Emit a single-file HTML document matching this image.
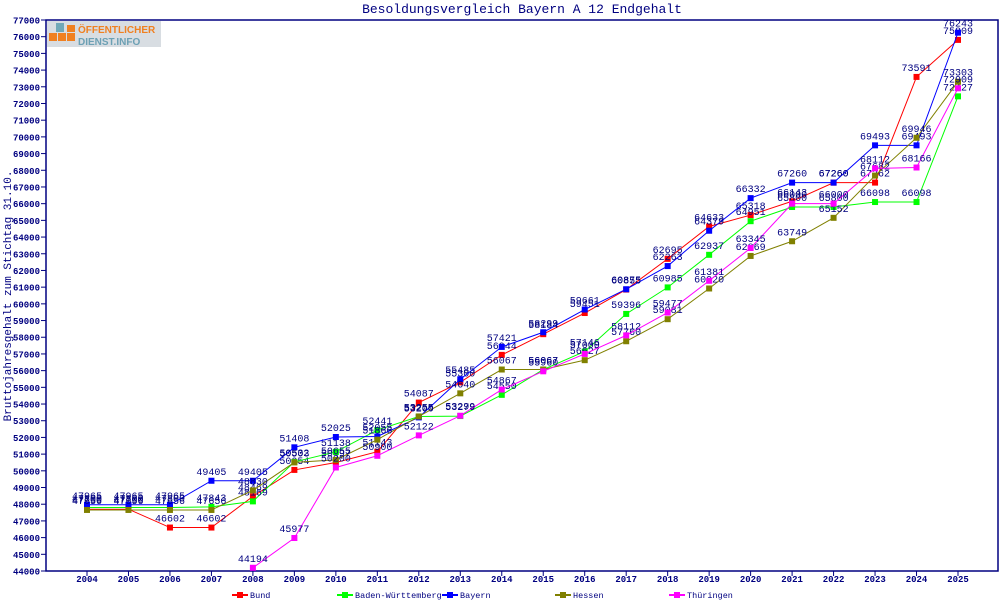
<!DOCTYPE html>
<html><head><meta charset="utf-8">
<style>
body{margin:0;background:#fff;}
svg{display:block;font-family:"Liberation Mono",monospace;}
</style></head>
<body>
<svg id="chart" width="1000" height="600">
<rect x="0" y="0" width="1000" height="600" fill="#fff"/>
<text x="522" y="13" font-size="13" fill="#000080" text-anchor="middle">Besoldungsvergleich Bayern A 12 Endgehalt</text>
<g>
<rect x="47" y="21" width="114" height="26" fill="#d8dde2"/>
<rect x="49" y="33" width="8" height="8" fill="#f08020"/><rect x="58" y="33" width="8" height="8" fill="#f08020"/><rect x="67" y="33" width="8" height="8" fill="#f08020"/><rect x="67" y="25" width="8" height="7" fill="#f08020"/><rect x="56" y="23" width="8" height="9" fill="#70a8b8"/>
<text x="78" y="33" font-size="10" font-weight="bold" fill="#f08020" font-family="Liberation Sans,sans-serif">ÖFFENTLICHER</text>
<text x="78" y="45" font-size="10" font-weight="bold" fill="#6ca0b4" font-family="Liberation Sans,sans-serif">DIENST.INFO</text>
</g>
<text transform="translate(11,296) rotate(-90)" font-size="11" fill="#000080" text-anchor="middle">Bruttojahresgehalt zum Stichtag 31.10.</text>
<rect x="46" y="20" width="952" height="551" fill="none" stroke="#000080" stroke-width="1.5"/>
<g id="axes"></g>
<g id="series"></g>
<g id="legend"></g>
</svg>
<script>
const years = [2004,2005,2006,2007,2008,2009,2010,2011,2012,2013,2014,2015,2016,2017,2018,2019,2020,2021,2022,2023,2024,2025];
const yTicks = [44000,45000,46000,47000,48000,49000,50000,51000,52000,53000,54000,55000,56000,57000,58000,59000,60000,61000,62000,63000,64000,65000,66000,67000,68000,69000,70000,71000,72000,73000,74000,75000,76000,77000];
const seriesNames = ["Bund","Baden-Württemberg","Bayern","Hessen","Thüringen"];
const seriesColors = ["#ff0000","#00ff00","#0000ff","#808000","#ff00ff"];
const bund = [47700,47700,46602,46602,48469,50054,50497,51143,54087,55300,56944,58184,59451,60855,62695,64633,65318,66143,67260,67262,73591,75809];
const bw = [47800,47800,47800,47843,48169,50532,51138,52441,53255,53279,54550,56067,57146,59396,60985,62937,64951,65800,65800,66098,66098,72427];
const bayern = [47965,47965,47965,49405,49405,51408,52025,52055,53200,55485,57421,58299,59661,60875,62263,64379,66332,67260,67260,69493,69493,76243];
const hessen = [47656,47656,47656,47656,48830,50503,50655,51866,53255,54640,56067,56067,56627,57760,59081,60920,62869,63749,65152,67682,69946,73303];
const thueringen = [null,null,null,null,44194,45977,50200,50900,52122,53299,54867,55960,57000,58112,59477,61381,63345,66000,66000,68112,68166,72909];
const allSeries = [bund,bw,bayern,hessen,thueringen];

const NS="http://www.w3.org/2000/svg";
const x0=87, x1=958, yTop=20, yBot=571, vMin=44000, vMax=77000;
function xs(i){return x0+(x1-x0)*i/(years.length-1);}
function ys(v){return yBot-(v-vMin)/(vMax-vMin)*(yBot-yTop);}
function mk(tag,attrs,parent){const e=document.createElementNS(NS,tag);for(const k in attrs)e.setAttribute(k,attrs[k]);parent.appendChild(e);return e;}
const axes=document.getElementById('axes');
yTicks.forEach(v=>{
  const y=ys(v);
  const t=mk('line',{x1:41,x2:46,y1:y,y2:y,stroke:'#000080'},axes);
  
  
  const l=mk('text',{x:40,y:y+3.5,'font-size':9,'font-weight':'bold',fill:'#000080','text-anchor':'end'},axes);
  l.textContent=v;
  
  
});
years.forEach((yr,i)=>{
  const x=xs(i);
  const t=mk('line',{x1:x,x2:x,y1:571,y2:576,stroke:'#000080'},axes);
  
  
  const l=mk('text',{x:x,y:582,'font-size':9,'font-weight':'bold',fill:'#000080','text-anchor':'middle'},axes);
  l.textContent=yr;
  
  
});
const sg=document.getElementById('series');
allSeries.forEach((data,s)=>{
  const g=mk('g',{},sg);
  
  
  let pts=[];
  data.forEach((v,i)=>{if(v!==null)pts.push(xs(i)+','+ys(v));});
  const pl=mk('polyline',{points:pts.join(' '),fill:'none',stroke:seriesColors[s],'stroke-width':1},g);
  
  
  data.forEach((v,i)=>{
    if(v===null)return;
    const m=mk('rect',{x:xs(i)-3,y:ys(v)-3,width:6,height:6,fill:seriesColors[s]},g);
    
    
    const l=mk('text',{x:xs(i),y:ys(v)-6,'font-size':10,fill:'#000080','text-anchor':'middle'},g);
    l.textContent=v;
    
    
  });
});
const lg=document.getElementById('legend');
const lx=[240,345,450,563,677];
seriesNames.forEach((n,s)=>{
  const g=mk('g',{},lg);
  
  
  mk('line',{x1:lx[s]-8,x2:lx[s]+8,y1:595,y2:595,stroke:seriesColors[s],'stroke-width':2},g);
  mk('rect',{x:lx[s]-3,y:592,width:6,height:6,fill:seriesColors[s]},g);
  const t=mk('text',{x:lx[s]+10,y:598,'font-size':8.5,fill:'#000080'},g);
  t.textContent=n;
});
</script>
</body></html>
